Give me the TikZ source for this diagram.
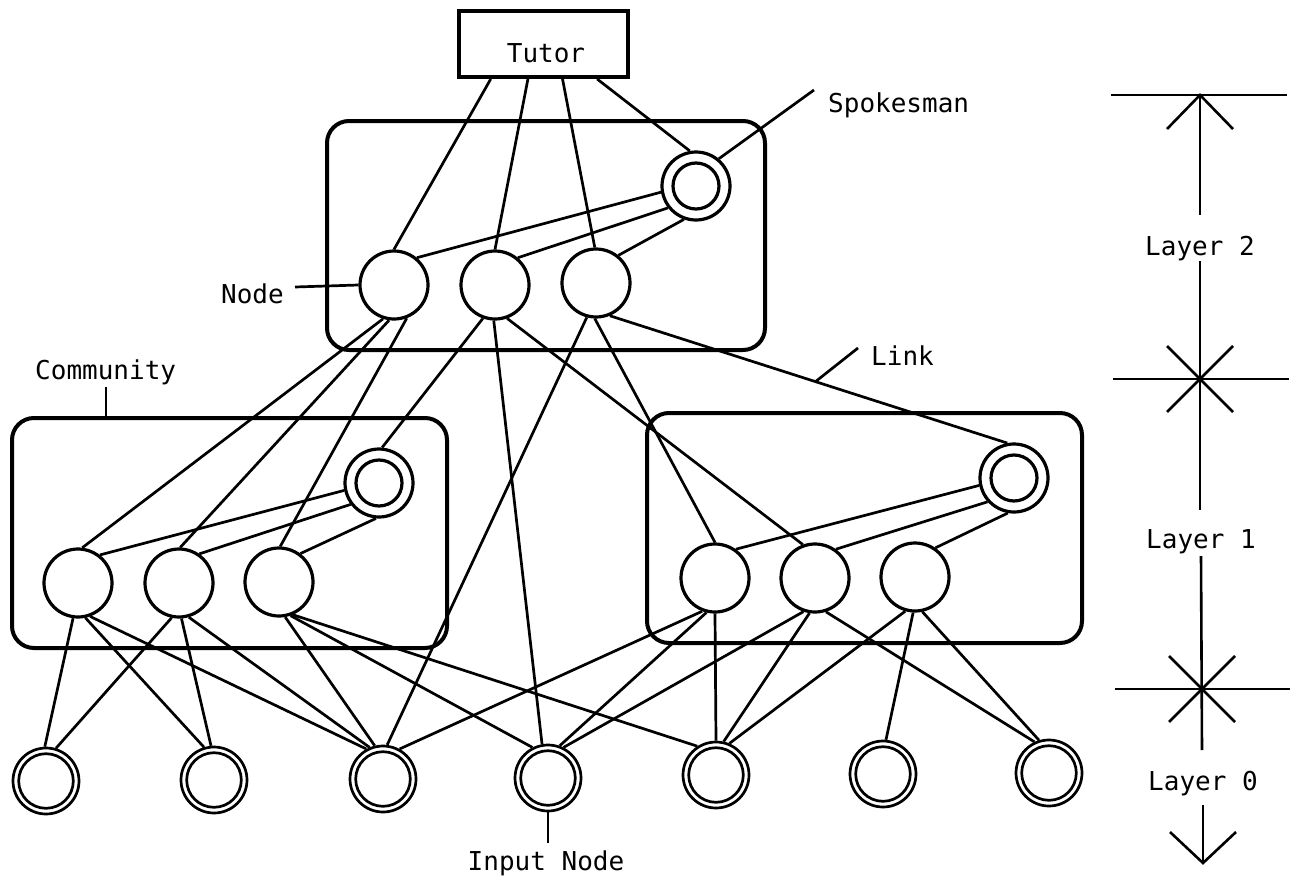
\documentclass[tikz,border=0pt]{standalone}
\usepackage{fontspec}
\setmonofont{DejaVu Sans Mono}
\usetikzlibrary{calc}
\tikzset{
  lbl/.style={font=\ttfamily\fontsize{26}{30}\selectfont, inner sep=0pt},
  unit/.style={circle, draw, line width=3.2pt, minimum size=68pt, inner sep=0pt},
  inp/.style={circle, draw, line width=2.7pt, minimum size=66pt, inner sep=0pt},
  edge/.style={line width=2.7pt},
  comm/.style={draw, line width=4pt, rounded corners=22pt, inner sep=0pt},
  laymark/.style={line width=2.6pt},
}
\begin{document}
\begin{tikzpicture}[x=1pt,y=-1pt]
\useasboundingbox (0,0) rectangle (1296,886);

% community boxes
\node[comm, minimum width=438pt, minimum height=229pt] (TB) at (546,235.5) {};
\node[comm, minimum width=435pt, minimum height=230pt] (LB) at (229.5,533) {};
\node[comm, minimum width=435pt, minimum height=230pt] (RB) at (864.5,528) {};

% tutor
\node[draw, line width=4pt, minimum width=169pt, minimum height=66pt, inner sep=0pt] (T) at (543.5,44) {};
\node[lbl, anchor=base] (tt) at (546,62) {Tutor};

% layer 2
\node[unit] (A1) at (394,285) {};
\node[unit] (A2) at (495,285) {};
\node[unit] (A3) at (596,283) {};
\node[unit] (S2) at (696,186) {};
\draw[line width=3.2pt] (S2.center) circle[radius=23pt];

% layer 1 left
\node[unit] (B1) at (78,583) {};
\node[unit] (B2) at (179,583) {};
\node[unit] (B3) at (279,582) {};
\node[unit] (SB) at (379,483) {};
\draw[line width=3.2pt] (SB.center) circle[radius=23pt];

% layer 1 right
\node[unit] (C1) at (715,578) {};
\node[unit] (C2) at (815,578) {};
\node[unit] (C3) at (915,577) {};
\node[unit] (SC) at (1014,478) {};
\draw[line width=3.2pt] (SC.center) circle[radius=23pt];

% layer 0 inputs
\foreach \n/\x/\y in {1/46/781, 2/214/780, 3/383/779, 4/548/778, 5/716/775, 6/883/774, 7/1049/773}{
  \node[inp] (I\n) at (\x,\y) {};
  \draw[line width=2.7pt] (I\n.center) circle[radius=27.3pt];
}

% tutor connections
\draw[edge] ($(T.south west)!0.195!(T.south east)$) -- (A1.90);
\draw[edge] ($(T.south west)!0.41!(T.south east)$) -- (A2.90);
\draw[edge] ($(T.south west)!0.61!(T.south east)$) -- (A3.92);
\draw[edge] ($(T.south west)!0.81!(T.south east)$) -- (S2.100);

% spokesman links in layer 2
\draw[edge] (S2.190) -- (A1.50);
\draw[edge] (S2.218) -- (A2.50);
\draw[edge] (S2.250) -- (A3.51);

% spokesman links in left community
\draw[edge] (SB.192) -- (B1.52);
\draw[edge] (SB.217) -- (B2.55);
\draw[edge] (SB.265) -- (B3.53);

% spokesman links in right community
\draw[edge] (SC.192) -- (C1.54);
\draw[edge] (SC.222) -- (C2.54);
\draw[edge] (SC.260) -- (C3.55);

% layer 2 -> layer 1
\draw[edge] (A1.252) -- (B1.83);
\draw[edge] (A1.262) -- (B2.88);
\draw[edge] (A1.291) -- (B3.88);
\draw[edge] (A2.250) -- (SB.85);
\draw[edge] (A2.268) -- (I4.100);
\draw[edge] (A2.290) -- (C2.110);
\draw[edge] (A3.255) -- (I3.83);
\draw[edge] (A3.268) -- (C1.90);
\draw[edge] (A3.293) -- (SC.101);

% layer 1 -> layer 0
\draw[edge] (B1.262) -- (I1.92);
\draw[edge] (B1.282) -- (I2.107);
\draw[edge] (B1.290) -- (I3.119);
\draw[edge] (B2.258) -- (I1.73);
\draw[edge] (B2.274) -- (I2.95);
\draw[edge] (B2.286) -- (I3.113);
\draw[edge] (B3.280) -- (I3.104);
\draw[edge] (B3.289) -- (I4.117);
\draw[edge] (B3.293) -- (I5.123);
\draw[edge] (C1.249) -- (I3.61);
\draw[edge] (C1.256) -- (I4.70);
\draw[edge] (C1.270) -- (I5.90);
\draw[edge] (C2.251) -- (I4.63);
\draw[edge] (C2.261) -- (I5.77);
\draw[edge] (C2.288) -- (I7.115);
\draw[edge] (C3.254) -- (I5.67);
\draw[edge] (C3.267) -- (I6.85);
\draw[edge] (C3.282) -- (I7.107);

% labels with leaders
\node[lbl, anchor=base west] (spk) at (828,112) {Spokesman};
\coordinate (spkend) at (814,90);
\draw[edge] (S2.50) -- (spkend);

\node[lbl, anchor=base east] (nd) at (284,303) {Node};
\coordinate (ndend) at (295,287);
\draw[edge] (ndend) -- (A1.west);

\node[lbl, anchor=base west] (lk) at (871,365) {Link};
\coordinate (lkA) at (858,348);
\coordinate (lkB) at (815,382);
\draw[edge] (lkA) -- (lkB);

\node[lbl, anchor=base west] (cm) at (35,379) {Community};
\coordinate (cmA) at (106,387);
\draw[edge] (cmA) -- (cmA |- LB.north);

\node[lbl, anchor=base] (inl) at (546,870) {Input Node};
\coordinate (inA) at (548,843);
\draw[edge] (I4.south) -- (inA);

% layer markers
\node[lbl, anchor=base] (L2) at (1200,255) {Layer 2};
\node[lbl, anchor=base] (L1) at (1201,548) {Layer 1};
\node[lbl, anchor=base] (L0) at (1203,790) {Layer 0};
\coordinate (top) at (1200,95);
\coordinate (s1) at (1200,379);
\coordinate (s0) at (1202,689);
\coordinate (bot) at (1203,863);
\draw[laymark] (1111,95) -- (1287,95);
\draw[laymark] (top) -- (1200,215);
\draw[laymark] (1167,129) -- (top) -- (1233,129);
\draw[laymark] (1200,261) -- (1200,510);
\draw[laymark] (1113,379) -- (1289,379);
\draw[laymark] (1167,346) -- (1233,412);
\draw[laymark] (1233,346) -- (1167,412);
\draw[laymark] (1201,556) -- (1202,750);
\draw[laymark] (1115,689) -- (1290,689);
\draw[laymark] (1169,656) -- (1235,722);
\draw[laymark] (1235,656) -- (1169,722);
\draw[laymark] (1203,805) -- (bot);
\draw[laymark] (1170,832) -- (bot) -- (1236,832);
\end{tikzpicture}
\end{document}
